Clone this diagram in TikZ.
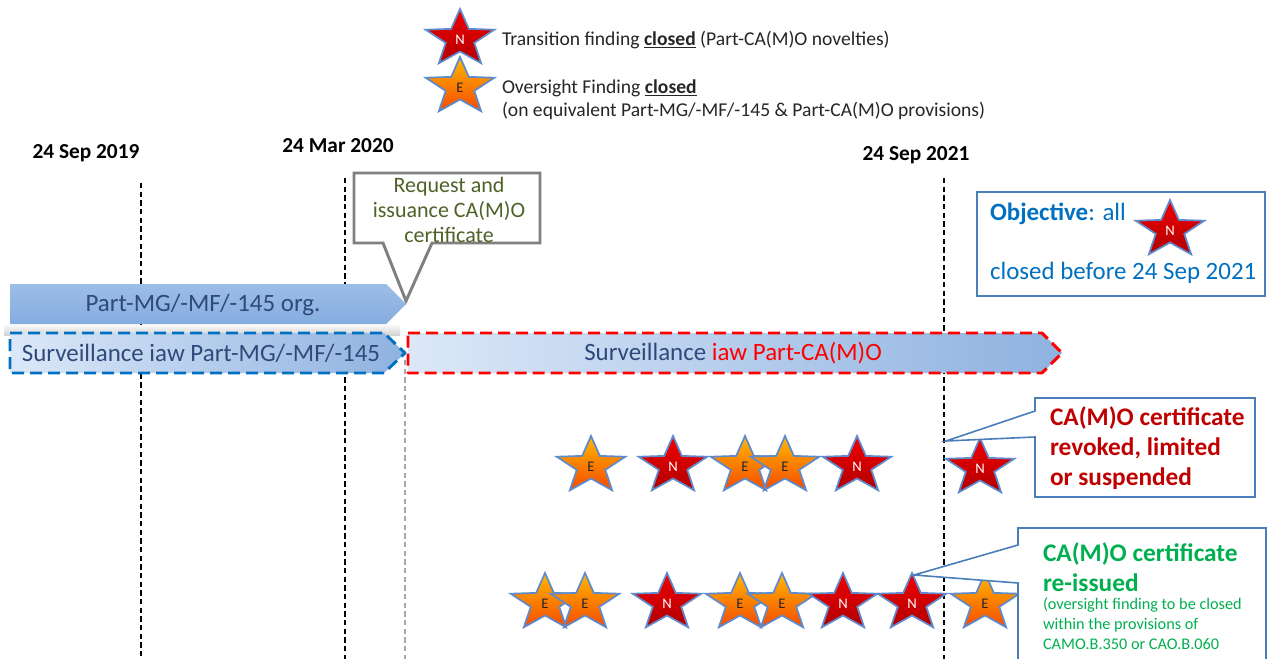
\documentclass[tikz,border=0pt]{standalone}
\usepackage{fontspec}
\setmainfont{Carlito}
\definecolor{starline}{HTML}{5F8ACC}
\definecolor{nredA}{HTML}{F20000}
\definecolor{nredB}{HTML}{B00000}
\definecolor{eorA}{HTML}{FFB800}
\definecolor{eorB}{HTML}{F54A00}
\definecolor{bartext}{HTML}{2F4A7A}
\definecolor{barA}{HTML}{9CBDE6}
\definecolor{barB}{HTML}{86ADE0}
\definecolor{lightA}{HTML}{DCE8F8}
\definecolor{lightB}{HTML}{8FB2E0}
\definecolor{dashblue}{HTML}{0070C0}
\definecolor{olive}{HTML}{4F6228}
\definecolor{boxline}{HTML}{4A7EBB}
\definecolor{objblue}{HTML}{0070C0}
\definecolor{darkred}{HTML}{C00000}
\definecolor{okgreen}{HTML}{00B050}
\definecolor{legtextc}{HTML}{262626}
\newcommand\rkleg{\fontsize{14.7}{17}\selectfont}
\newcommand\rkdate{\fontsize{16}{19}\selectfont\bfseries}
\newcommand\rkbar{\fontsize{18.7}{22}\selectfont}
\newcommand\rkcall{\fontsize{16.5}{19}\selectfont}
\newcommand\rkobj{\fontsize{18.7}{22}\selectfont}
\newcommand\rkbig{\fontsize{19}{22.5}\selectfont\bfseries}
\newcommand\rksmall{\fontsize{12.2}{15}\selectfont}
\newcommand\rkstar{\fontsize{11}{12}\selectfont}
\tikzset{
  vline/.style={draw=black, line width=1.1pt, dash pattern=on 4pt off 2.5pt},
  gline/.style={draw=gray!70, line width=1.1pt, dash pattern=on 4pt off 2.5pt},
  starpath/.style={line width=1.3pt, draw=starline},
  nstar/.pic={
    \path[starpath, top color=nredA, bottom color=nredB, xscale=1.2]
      (-90:30) -- (-54:12.5) -- (-18:30) -- (18:12.5) -- (54:30) -- (90:12.5)
      -- (126:30) -- (162:12.5) -- (198:30) -- (234:12.5) -- cycle;
    \node[font=\rkstar, text=white] (-l) at (0,1) {N};
  },
  estar/.pic={
    \path[starpath, top color=eorA, bottom color=eorB, xscale=1.2]
      (-90:30) -- (-54:12.5) -- (-18:30) -- (18:12.5) -- (54:30) -- (90:12.5)
      -- (126:30) -- (162:12.5) -- (198:30) -- (234:12.5) -- cycle;
    \node[font=\rkstar, text=black!85] (-l) at (0,1) {E};
  },
  legtext/.style={font=\rkleg, text=legtextc, anchor=west},
  datetext/.style={font=\rkdate, text=black},
  bartxt/.style={font=\rkbar, text=bartext},
  boxstyle/.style={draw=boxline, line width=1.2pt, fill=white},
}
\begin{document}
\begin{tikzpicture}[x=0.75pt,y=-0.75pt, every node/.style={inner sep=0pt, outer sep=0pt}]
\useasboundingbox (0,0) rectangle (1269,659);
\fill[white] (0,0) rectangle (1269,659);

% legend
\pic (lgN) at (460,39) {nstar};
\pic (lgE) at (460,87) {estar};
\node[legtext] (leg1) at (502,40) {Transition finding \underline{\textbf{closed}} (Part-CA(M)O novelties)};
\node[legtext] (leg2) at (502,88) {Oversight Finding \underline{\textbf{closed}}};
\node[legtext] (leg3) at (502,111) {(on equivalent Part-MG/-MF/-145 \& Part-CA(M)O provisions)};

% dates
\node[datetext] (d1) at (86,153) {24 Sep 2019};
\node[datetext] (d2) at (338,146) {24 Mar 2020};
\node[datetext] (d3) at (916,155) {24 Sep 2021};

% timeline markers
\coordinate (v1t) at (141,183); \coordinate (v1b) at (141,659);
\coordinate (v2t) at (345,178); \coordinate (v2b) at (345,659);
\coordinate (v3t) at (944,178); \coordinate (v3b) at (944,659);
\coordinate (g1t) at (405,360); \coordinate (g1b) at (405,659);
\draw[vline] (v1t) -- (v1b);
\draw[vline] (v2t) -- (v2b);
\draw[vline] (v3t) -- (v3b);
\draw[gline] (g1t) -- (g1b);

% request callout
\draw[draw=gray, line width=2.2pt, fill=white, line join=miter]
  (354,173) -- (540,173) -- (540,243) -- (432,243) -- (406,301) -- (383,243) -- (354,243) -- cycle;
\node[font=\rkcall, text=olive, align=center] (req) at (449,210) {Request and\\issuance CA(M)O\\certificate};

% bar 1
\shade[top color=gray!5, bottom color=gray!35] (4,325) rectangle (400,335);
\path[top color=barA, bottom color=barB]
  (10,284) -- (386,284) -- (406,304) -- (386,324) -- (10,324) -- cycle;
\node[bartxt] (b1) at (203,305) {Part-MG/-MF/-145 org.};

% bar 2
\path[left color=lightA, right color=lightB, draw=dashblue, line width=2.2pt, dash pattern=on 9pt off 4.5pt, line join=round]
  (10,333) -- (384,333) -- (405,353) -- (384,373) -- (10,373) -- cycle;
\node[bartxt] (b2) at (201,353) {Surveillance iaw Part-MG/-MF/-145};

% bar 3
\path[left color=lightA, right color=lightB, draw=red, line width=2.2pt, dash pattern=on 9pt off 4.5pt, line join=round]
  (408,333) -- (1042,333) -- (1062,353) -- (1042,373) -- (408,373) -- cycle;
\node[bartxt] (b3) at (733,353) {Surveillance {\color{red}iaw Part-CA(M)O}};

% objective box
\draw[boxstyle] (977,192) rectangle (1265,296);
\node[font=\rkobj, text=objblue, anchor=west] (obj1) at (990,214) {\textbf{Objective}: all};
\pic (objN) at (1170,230) {nstar};
\node[font=\rkobj, text=objblue, anchor=west] (obj2) at (990,273) {closed before 24 Sep 2021};

% row 1 stars
\pic (r1a) at (591,466) {estar};
\pic (r1b) at (673,466) {nstar};
\pic (r1c) at (745,466) {estar};
\pic (r1d) at (785,466) {estar};
\pic (r1e) at (857,466) {nstar};
\pic (r1f) at (980,468) {nstar};

% revoked callout
\draw[boxstyle, line join=miter]
  (1035,398) -- (1255,398) -- (1255,497) -- (1035,497) -- (1035,437) -- (946,441) -- (1035,411) -- cycle;
\node[font=\rkbig, text=darkred, align=left, anchor=west] (rev) at (1050,448) {CA(M)O certificate\\revoked, limited\\or suspended};

% row 2 stars
\pic (r2a) at (545,603) {estar};
\pic (r2b) at (585,603) {estar};
\pic (r2c) at (667,603) {nstar};
\pic (r2d) at (740,603) {estar};
\pic (r2e) at (782,603) {estar};
\pic (r2f) at (843,603) {nstar};
\pic (r2g) at (912,603) {nstar};
\pic (r2h) at (985,603) {estar};

% re-issued callout
\draw[boxstyle, line join=miter]
  (1018,528) -- (1266,528) -- (1266,670) -- (1018,670) -- (1018,583) -- (914,575) -- (1018,545) -- cycle;
\node[font=\rkbig, text=okgreen, align=left, anchor=west] (re1) at (1043,567) {CA(M)O certificate\\re-issued};
\node[font=\rksmall, text=okgreen, align=left, anchor=north west] (re2) at (1043,598) {(oversight finding to be closed\\within the provisions of\\CAMO.B.350 or CAO.B.060};
\end{tikzpicture}
\end{document}
